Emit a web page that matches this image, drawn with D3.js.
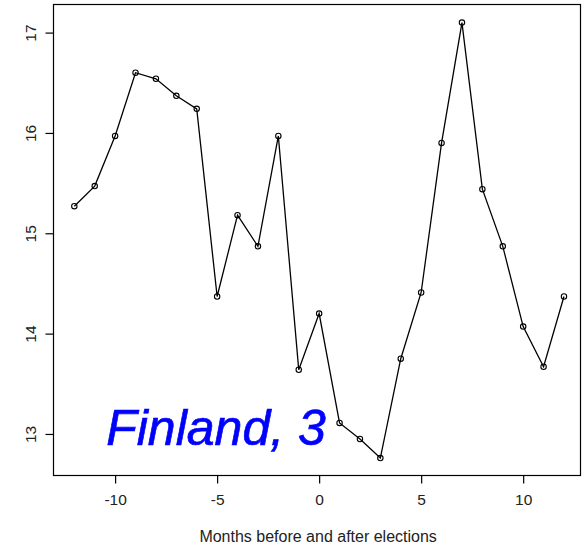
<!DOCTYPE html>
<html>
<head>
<meta charset="utf-8">
<script src="https://cdn.jsdelivr.net/npm/d3@7"></script>
<style>
  html, body { margin: 0; padding: 0; background: #fff; }
  svg { display: block; }
  text { font-family: "Liberation Sans", Arial, sans-serif; }
</style>
</head>
<body>
<div id="chart"></div>
<script>
const months = [-12,-11,-10,-9,-8,-7,-6,-5,-4,-3,-2,-1,0,1,2,3,4,5,6,7,8,9,10,11,12];
const values = [15.27,15.47,15.97,16.60,16.54,16.37,16.24,14.37,15.18,14.87,15.97,13.64,14.20,13.11,12.95,12.76,13.75,14.41,15.90,17.10,15.44,14.87,14.07,13.67,14.37];
const xTicks = [-10,-5,0,5,10];
const yTicks = [13,14,15,16,17];
const xLabel = "Months before and after elections";
const annotation = "Finland, 3";

const W = 585, H = 548;
const plotL = 53.5, plotR = 580.5, plotT = 4.5, plotB = 475.5;

const svg = d3.select("#chart").append("svg")
  .attr("width", W).attr("height", H);

const x = d3.scaleLinear().domain([-13.02, 12.81]).range([plotL, plotR]);
const y = d3.scaleLinear().domain([12.586, 17.28]).range([plotB, plotT]);

// box
svg.append("rect")
  .attr("x", plotL).attr("y", plotT)
  .attr("width", plotR - plotL).attr("height", plotB - plotT)
  .attr("fill", "none").attr("stroke", "#000").attr("stroke-width", 1.2);

// x axis
const xAxis = d3.axisBottom(x).tickValues(xTicks).tickSize(8).tickPadding(10).tickFormat(d3.format("d"));
const gx = svg.append("g").attr("transform", `translate(0,${plotB})`).call(xAxis);
gx.select(".domain").remove();
gx.selectAll("line").attr("stroke", "#000").attr("stroke-width", 1.2);
gx.selectAll("text").attr("font-size", 15.5).attr("fill", "#222")
  .attr("font-family", "Liberation Sans, Arial, sans-serif")
  .text(d => d < 0 ? "-" + Math.abs(d) : d);

// y axis
const yAxis = d3.axisLeft(y).tickValues(yTicks).tickSize(8).tickFormat(d3.format("d"));
const gy = svg.append("g").attr("transform", `translate(${plotL},0)`).call(yAxis);
gy.select(".domain").remove();
gy.selectAll("line").attr("stroke", "#000").attr("stroke-width", 1.2);
gy.selectAll("text").remove();
gy.selectAll(".tick").append("text")
  .attr("transform", "translate(-17.5,0) rotate(-90)")
  .attr("text-anchor", "middle")
  .attr("font-size", 15.5)
  .attr("fill", "#222")
  .attr("font-family", "Liberation Sans, Arial, sans-serif")
  .text(d => d);

// x label
svg.append("text")
  .attr("x", (x(-10) + x(10)) / 2 - 1).attr("y", 541.5)
  .attr("text-anchor", "middle")
  .attr("font-size", 16)
  .attr("fill", "#222")
  .text(xLabel);

// line
const line = d3.line().x((d, i) => x(months[i])).y(d => y(d));
svg.append("path")
  .datum(values)
  .attr("d", line)
  .attr("fill", "none").attr("stroke", "#000").attr("stroke-width", 1.3);

// points
svg.append("g").selectAll("circle")
  .data(values)
  .join("circle")
  .attr("cx", (d, i) => x(months[i]))
  .attr("cy", d => y(d))
  .attr("r", 2.7)
  .attr("fill", "none").attr("stroke", "#000").attr("stroke-width", 1.1);

// annotation
svg.append("text")
  .attr("x", 216).attr("y", 445)
  .attr("text-anchor", "middle")
  .attr("font-size", 50)
  .attr("font-style", "italic")
  .attr("fill", "#0000ff")
  .attr("stroke", "#0000ff")
  .attr("stroke-width", 0.7)
  .text(annotation);
</script>
</body>
</html>
